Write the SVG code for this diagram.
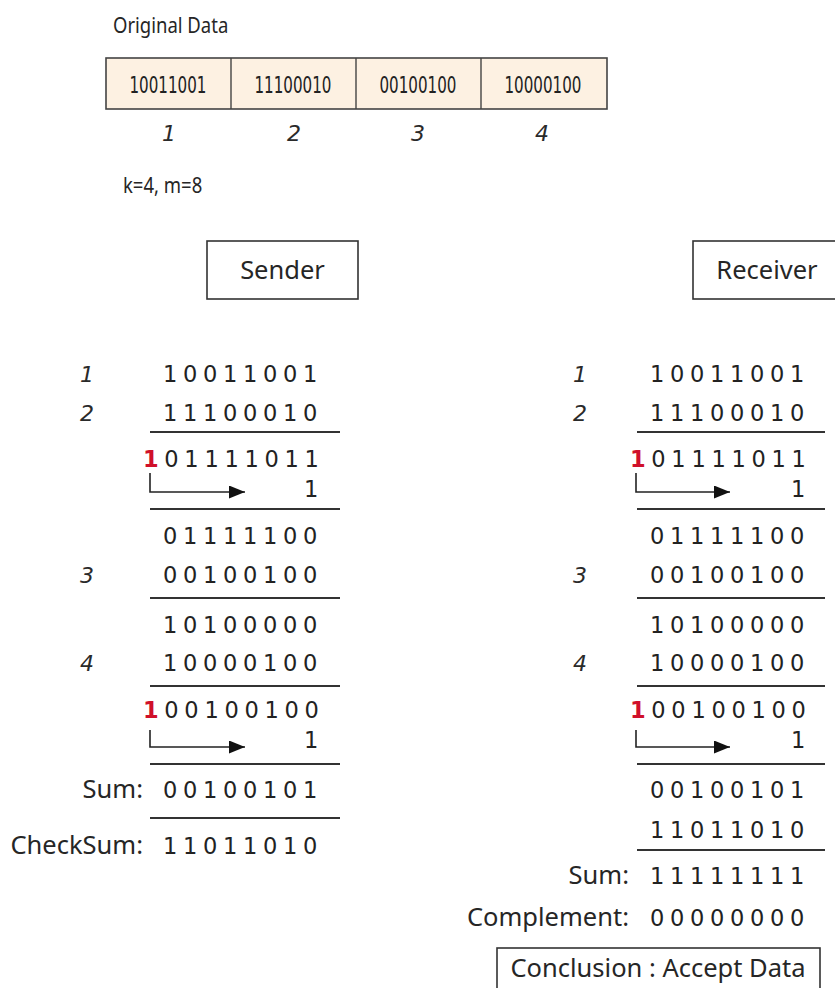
<svg xmlns="http://www.w3.org/2000/svg" width="835" height="988" viewBox="0 0 835 988">
  <style>
    .word { font-family: "Noto Sans", "Liberation Sans", sans-serif; font-size: 25.5px; fill: #262626; }
    .top { font-family: "Noto Sans", "Liberation Sans", sans-serif; font-size: 18.5px; fill: #262626; }
    .bits { font-family: "DejaVu Sans", "Liberation Sans", sans-serif; font-size: 22.5px; letter-spacing: 5.7px; fill: #222; }
    .cell { font-family: "DejaVu Sans", "Liberation Sans", sans-serif; font-size: 23px; fill: #222; text-anchor: middle; }
    .idx { font-family: "DejaVu Sans", "Liberation Sans", sans-serif; font-style: italic; font-size: 22px; fill: #2a2a2a; }
    .carry { fill: #d0102a; font-weight: bold; }
    .box { fill: #fff; stroke: #333; stroke-width: 1.6; }
    .rule { stroke: #333; stroke-width: 1.8; fill: none; }
    .wrap { stroke: #222; stroke-width: 1.6; fill: none; marker-end: url(#head); }
  </style>
  <defs>
    <marker id="head" markerUnits="userSpaceOnUse" markerWidth="16" markerHeight="13" viewBox="0 0 16 13" refX="16" refY="6.5" orient="auto">
      <path d="M0,0 L16,6.5 L0,13 z" fill="#111"/>
    </marker>
  </defs>

  <!-- data words -->
  <g id="original-data">
    <text class="top" transform="translate(113,33) scale(1,1.17)">Original Data</text>
    <rect x="106" y="58" width="501" height="51" fill="#fdf1e2" stroke="#444" stroke-width="1.6"/>
    <line x1="231" y1="58" x2="231" y2="109" stroke="#444" stroke-width="1.4"/>
    <line x1="356" y1="58" x2="356" y2="109" stroke="#444" stroke-width="1.4"/>
    <line x1="481" y1="58" x2="481" y2="109" stroke="#444" stroke-width="1.4"/>
    <text class="cell" x="168" y="93" textLength="77" lengthAdjust="spacingAndGlyphs">10011001</text>
    <text class="cell" x="293" y="93" textLength="77" lengthAdjust="spacingAndGlyphs">11100010</text>
    <text class="cell" x="418" y="93" textLength="77" lengthAdjust="spacingAndGlyphs">00100100</text>
    <text class="cell" x="543" y="93" textLength="77" lengthAdjust="spacingAndGlyphs">10000100</text>
    <text class="idx" x="162" y="141">1</text>
    <text class="idx" x="287" y="141">2</text>
    <text class="idx" x="411" y="141">3</text>
    <text class="idx" x="535" y="141">4</text>
    <text class="top" transform="translate(123,193) scale(1,1.17)">k=4, m=8</text>
  </g>

  <g id="sender">
    <rect class="box" x="207" y="241" width="151" height="58"/>
    <text class="word" x="282.5" y="279" text-anchor="middle">Sender</text>
  </g>

  <g id="receiver">
    <rect class="box" x="693" y="241" width="150" height="58"/>
    <text class="word" x="767" y="279" text-anchor="middle">Receiver</text>
  </g>

  <!-- sender side addition -->
  <g id="sender-sum">
    <text class="idx" x="80" y="382">1</text>
    <text class="idx" x="80" y="421">2</text>
    <text class="idx" x="80" y="583">3</text>
    <text class="idx" x="80" y="671">4</text>
    <text class="bits" x="163" y="382">10011001</text>
    <text class="bits" x="163" y="421">11100010</text>
    <text class="bits" x="143" y="467"><tspan class="carry">1</tspan>01111011</text>
    <text class="bits" x="304" y="497">1</text>
    <text class="bits" x="163" y="544">01111100</text>
    <text class="bits" x="163" y="583">00100100</text>
    <text class="bits" x="163" y="633">10100000</text>
    <text class="bits" x="163" y="671">10000100</text>
    <text class="bits" x="143" y="718"><tspan class="carry">1</tspan>00100100</text>
    <text class="bits" x="304" y="748">1</text>
    <text class="word" x="143" y="798" text-anchor="end">Sum:</text>
    <text class="bits" x="163" y="798">00100101</text>
    <text class="word" x="143" y="854" text-anchor="end">CheckSum:</text>
    <text class="bits" x="163" y="854">11011010</text>
  </g>

  <!-- receiver side addition -->
  <g id="receiver-sum">
    <text class="idx" x="573" y="382">1</text>
    <text class="idx" x="573" y="421">2</text>
    <text class="idx" x="573" y="583">3</text>
    <text class="idx" x="573" y="671">4</text>
    <text class="bits" x="650" y="382">10011001</text>
    <text class="bits" x="650" y="421">11100010</text>
    <text class="bits" x="630" y="467"><tspan class="carry">1</tspan>01111011</text>
    <text class="bits" x="791" y="497">1</text>
    <text class="bits" x="650" y="544">01111100</text>
    <text class="bits" x="650" y="583">00100100</text>
    <text class="bits" x="650" y="633">10100000</text>
    <text class="bits" x="650" y="671">10000100</text>
    <text class="bits" x="630" y="718"><tspan class="carry">1</tspan>00100100</text>
    <text class="bits" x="791" y="748">1</text>
    <text class="bits" x="650" y="798">00100101</text>
    <text class="bits" x="650" y="838">11011010</text>
    <text class="word" x="629" y="884" text-anchor="end">Sum:</text>
    <text class="bits" x="650" y="884">11111111</text>
    <text class="word" x="629" y="926" text-anchor="end">Complement:</text>
    <text class="bits" x="650" y="926">00000000</text>
  </g>

  <g id="conclusion">
    <rect class="box" x="497" y="948" width="323" height="50"/>
    <text class="word" x="658" y="977" text-anchor="middle">Conclusion : Accept Data</text>
  </g>

  <!-- sum rules and end-around carry arrows -->
  <g id="connectors">
    <line class="rule" x1="150" y1="432" x2="340" y2="432"/>
    <line class="rule" x1="150" y1="509" x2="340" y2="509"/>
    <line class="rule" x1="150" y1="598" x2="340" y2="598"/>
    <line class="rule" x1="150" y1="686" x2="340" y2="686"/>
    <line class="rule" x1="150" y1="764" x2="340" y2="764"/>
    <line class="rule" x1="150" y1="818" x2="340" y2="818"/>
    <path class="wrap" d="M150,473 V492 H245"/>
    <path class="wrap" d="M150,730 V747 H245"/>

    <line class="rule" x1="637" y1="432" x2="825" y2="432"/>
    <line class="rule" x1="637" y1="509" x2="825" y2="509"/>
    <line class="rule" x1="637" y1="598" x2="825" y2="598"/>
    <line class="rule" x1="637" y1="686" x2="825" y2="686"/>
    <line class="rule" x1="637" y1="764" x2="825" y2="764"/>
    <line class="rule" x1="637" y1="850" x2="825" y2="850"/>
    <path class="wrap" d="M636,473 V492 H730"/>
    <path class="wrap" d="M636,730 V747 H730"/>
  </g>
</svg>
